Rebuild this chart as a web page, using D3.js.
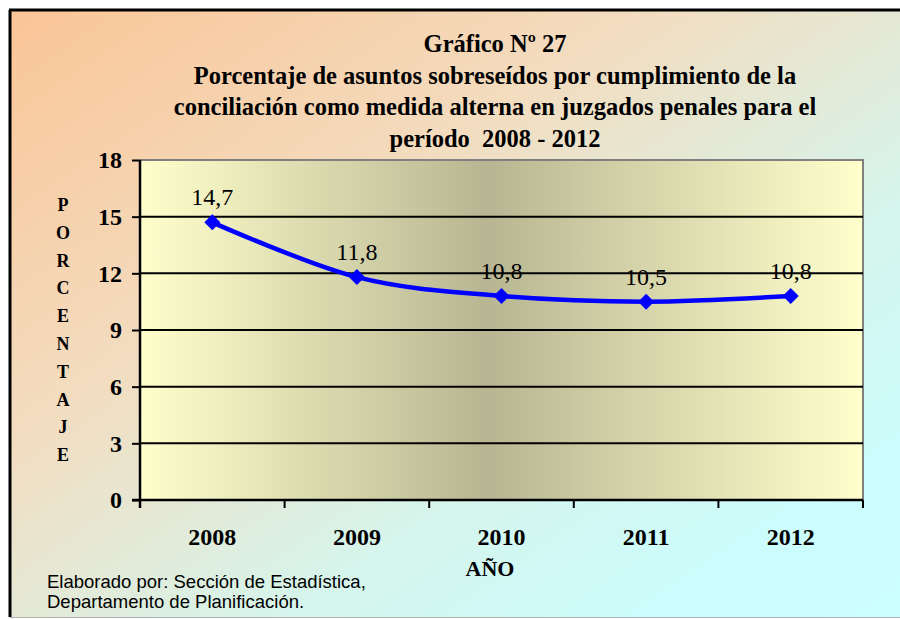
<!DOCTYPE html>
<html>
<head>
<meta charset="utf-8">
<script src="https://cdn.jsdelivr.net/npm/d3@7"></script>
<style>
  html, body { margin: 0; padding: 0; background: #fff; }
  svg { display: block; }
</style>
</head>
<body>
<div id="chart"></div>
<script>
// data
const years = ['2008', '2009', '2010', '2011', '2012'];
const values = [14.7, 11.8, 10.8, 10.5, 10.8];
const valueLabels = ['14,7', '11,8', '10,8', '10,5', '10,8'];
const yTicks = [0, 3, 6, 9, 12, 15, 18];
const titleLines = [
    'Gráfico Nº 27',
    'Porcentaje de asuntos sobreseídos por cumplimiento de la',
    'conciliación como medida alterna en juzgados penales para el',
    'período  2008 - 2012',
];
const yTitle = 'PORCENTAJE';
const xTitle = 'AÑO';
const footer = ['Elaborado por: Sección de Estadística,', 'Departamento de Planificación.'];

const W = 900, H = 619;
const margin = { top: 160, right: 37, bottom: 119, left: 140 };
const width = W - margin.left - margin.right;
const height = H - margin.top - margin.bottom;
const serif = '"Liberation Serif", "Times New Roman", serif';

const svg = d3.select('#chart').append('svg')
    .attr('width', W)
    .attr('height', H);

const defs = svg.append('defs');
const bg = defs.append('linearGradient')
    .attr('id', 'bg')
    .attr('x1', 0).attr('y1', 0).attr('x2', 1).attr('y2', 1);
bg.append('stop').attr('offset', '0%').attr('stop-color', '#fac597');
bg.append('stop').attr('offset', '35%').attr('stop-color', '#f3dcbf');
bg.append('stop').attr('offset', '65%').attr('stop-color', '#d6f5ec');
bg.append('stop').attr('offset', '85%').attr('stop-color', '#ccfcfc');
bg.append('stop').attr('offset', '100%').attr('stop-color', '#ccffff');

const plotBg = defs.append('linearGradient')
    .attr('id', 'plotbg')
    .attr('x1', 0).attr('y1', 0).attr('x2', 1).attr('y2', 0);
plotBg.append('stop').attr('offset', '0%').attr('stop-color', '#ffffcc');
plotBg.append('stop').attr('offset', '48%').attr('stop-color', '#b8b692');
plotBg.append('stop').attr('offset', '100%').attr('stop-color', '#ffffcc');

// outer frame
svg.append('rect')
    .attr('x', 10).attr('y', 11)
    .attr('width', W).attr('height', 606)
    .attr('fill', 'url(#bg)');
svg.append('line')
    .attr('x1', 10).attr('x2', 10).attr('y1', 10).attr('y2', 617)
    .attr('stroke', '#000').attr('stroke-width', 3);
svg.append('line')
    .attr('x1', 9).attr('x2', W).attr('y1', 10).attr('y2', 10)
    .attr('stroke', '#000').attr('stroke-width', 3);
svg.append('line')
    .attr('x1', 10).attr('x2', W).attr('y1', 617.5).attr('y2', 617.5)
    .attr('stroke', '#b0b0b0').attr('stroke-width', 1);

// title
svg.append('g').selectAll('text')
    .data(titleLines)
    .enter()
    .append('text')
    .attr('x', 495)
    .attr('y', (d, i) => 52 + i * 31.5)
    .attr('text-anchor', 'middle')
    .attr('font-family', serif)
    .attr('font-weight', 'bold')
    .attr('font-size', 24.5)
    .style('white-space', 'pre')
    .text(d => d);

const g = svg.append('g')
    .attr('transform', 'translate(' + margin.left + ',' + margin.top + ')');

const x = d3.scaleBand()
    .domain(years)
    .range([0, width])
    .padding(0);

const y = d3.scaleLinear()
    .domain([0, 18])
    .range([height, 0]);

// plot area
g.append('rect')
    .attr('width', width)
    .attr('height', height)
    .attr('fill', 'url(#plotbg)');
g.append('path')
    .attr('d', 'M0,0H' + width + 'V' + height)
    .attr('fill', 'none')
    .attr('stroke', '#808080')
    .attr('stroke-width', 2);

// gridlines
g.append('g').selectAll('line')
    .data(yTicks.filter(d => d > 0 && d < 18))
    .enter()
    .append('line')
    .attr('x1', 0).attr('x2', width)
    .attr('y1', d => y(d)).attr('y2', d => y(d))
    .attr('stroke', '#000')
    .attr('stroke-width', 2);

// y axis
const yAxis = g.append('g')
    .call(d3.axisLeft(y).tickValues(yTicks).tickSize(8).tickPadding(10));
yAxis.select('.domain').attr('stroke-width', 2.5).attr('d', 'M0,0V' + (height + 8));
yAxis.selectAll('.tick line').attr('stroke-width', 2);
yAxis.selectAll('text')
    .attr('font-family', serif)
    .attr('font-weight', 'bold')
    .attr('font-size', 24)
    .attr('fill', '#000');

// x axis: labels centred in bands, ticks on band edges
const xAxis = g.append('g')
    .attr('transform', 'translate(0,' + height + ')')
    .call(d3.axisBottom(x).tickSize(0).tickPadding(28));
xAxis.select('.domain').attr('stroke-width', 2.5).attr('d', 'M-8,0H' + width);
xAxis.selectAll('text')
    .attr('font-family', serif)
    .attr('font-weight', 'bold')
    .attr('font-size', 24)
    .attr('fill', '#000');
xAxis.append('g').selectAll('line')
    .data(years)
    .enter()
    .append('line')
    .attr('x1', d => x(d) + x.bandwidth())
    .attr('x2', d => x(d) + x.bandwidth())
    .attr('y1', 0).attr('y2', 8)
    .attr('stroke', '#000')
    .attr('stroke-width', 2);

// axis titles
const yt = svg.append('text')
    .attr('font-family', serif)
    .attr('font-weight', 'bold')
    .attr('font-size', 18)
    .attr('text-anchor', 'middle');
yt.selectAll('tspan')
    .data(yTitle.split(''))
    .enter()
    .append('tspan')
    .attr('x', 63)
    .attr('y', (d, i) => 211 + i * 27.8)
    .text(d => d);

svg.append('text')
    .attr('x', 490)
    .attr('y', 576)
    .attr('text-anchor', 'middle')
    .attr('font-family', serif)
    .attr('font-weight', 'bold')
    .attr('font-size', 22)
    .text(xTitle);

// line
const pts = years.map((d, i) => ({ year: d, value: values[i], label: valueLabels[i] }));
g.append('path')
    .datum(pts)
    .attr('fill', 'none')
    .attr('stroke', '#0000ff')
    .attr('stroke-width', 4.5)
    .attr('d', d3.line()
        .curve(d3.curveCardinal)
        .x(d => x(d.year) + x.bandwidth() / 2)
        .y(d => y(d.value)));

g.append('g').selectAll('path')
    .data(pts)
    .enter()
    .append('path')
    .attr('transform', d => 'translate(' + (x(d.year) + x.bandwidth() / 2) + ',' + y(d.value) + ')')
    .attr('d', 'M0,-8L8,0L0,8L-8,0Z')
    .attr('fill', '#0000ff');

g.append('g').selectAll('text')
    .data(pts)
    .enter()
    .append('text')
    .attr('x', d => x(d.year) + x.bandwidth() / 2)
    .attr('y', d => y(d.value) - 17)
    .attr('text-anchor', 'middle')
    .attr('font-family', serif)
    .attr('font-size', 24)
    .attr('fill', '#000')
    .text(d => d.label);

// footer
svg.append('g').selectAll('text')
    .data(footer)
    .enter()
    .append('text')
    .attr('x', 47)
    .attr('y', (d, i) => 588 + i * 20)
    .attr('font-family', '"Liberation Sans", Arial, sans-serif')
    .attr('font-size', 18.5)
    .attr('fill', '#000')
    .text(d => d);
</script>
</body>
</html>
